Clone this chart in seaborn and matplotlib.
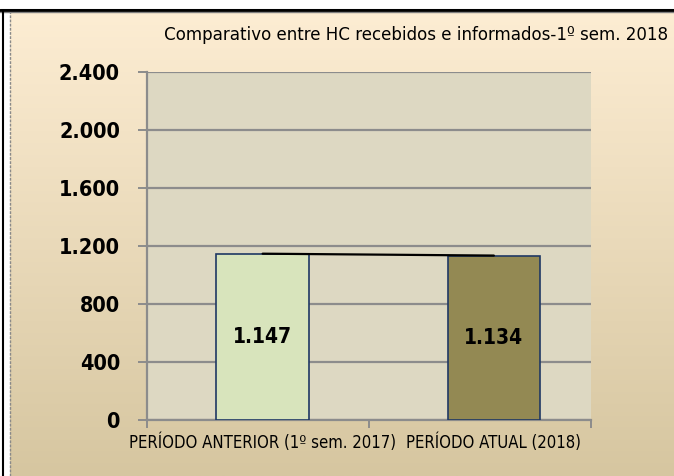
import numpy as np
import pandas as pd
import matplotlib
matplotlib.use('Agg')
import matplotlib.pyplot as plt
import seaborn as sns
from matplotlib.patches import Rectangle
from matplotlib.lines import Line2D

# chart data
categories = ['PERÍODO ANTERIOR (1º sem. 2017)', 'PERÍODO ATUAL (2018)']
values = [1147, 1134]
bar_colors = ['#d8e4bc', '#938953']
y_ticks = [0, 400, 800, 1200, 1600, 2000, 2400]
title = 'Comparativo entre HC recebidos e informados-1º sem. 2018'


def fmt_br(v):
    return f'{int(v):,}'.replace(',', '.')


sns.set_theme(style='white')
plt.rcParams['font.family'] = ['DejaVu Sans']
plt.rcParams['font.stretch'] = 'condensed'

df = pd.DataFrame({'periodo': categories, 'hc': values})

fig = plt.figure(figsize=(6.74, 4.76), dpi=100)
W, H = 674, 476

# gradient background of the chart area
bg = fig.add_axes([10 / W, 0, 1 - 10 / W, 1 - 12 / H], zorder=-2)
grad = np.linspace(0, 1, 256).reshape(-1, 1)
top = np.array(matplotlib.colors.to_rgb('#fdedd3'))
bot = np.array(matplotlib.colors.to_rgb('#d6c6a0'))
img = top + (bot - top) * grad[..., None]
bg.imshow(img, aspect='auto', extent=[0, 1, 0, 1])
bg.set_axis_off()

# frame lines of the original screenshot
fig.add_artist(Rectangle((0, 1 - 10 / H), 1, 10 / H, transform=fig.transFigure,
                         facecolor='white', edgecolor='none', zorder=5))
fig.add_artist(Line2D([0, 1], [1 - 10 / H, 1 - 10 / H], transform=fig.transFigure,
                      color='black', lw=2.2, zorder=6))
fig.add_artist(Line2D([0, 1], [1 - 12 / H, 1 - 12 / H], transform=fig.transFigure,
                      color='#7f7f7f', lw=1, zorder=6))
fig.add_artist(Rectangle((0, 0), 9 / W, 1 - 10 / H, transform=fig.transFigure,
                         facecolor='white', edgecolor='none', zorder=5))
fig.add_artist(Line2D([3 / W, 3 / W], [0, 1 - 10 / H], transform=fig.transFigure,
                      color='black', lw=1.5, zorder=6))
fig.add_artist(Line2D([9.5 / W, 9.5 / W], [0, 1 - 12 / H], transform=fig.transFigure,
                      color='#8a8a8a', lw=1, ls=(0, (2, 1)), zorder=6))

ax = fig.add_axes([147 / W, 1 - 420 / H, (591 - 147) / W, (420 - 72) / H])
ax.set_facecolor('#ddd8c2')

sns.barplot(data=df, x='periodo', y='hc', hue='periodo', palette=bar_colors,
            width=0.4, edgecolor='#1f3864', linewidth=1.2, legend=False,
            saturation=1, ax=ax, zorder=3)
ax.plot(range(len(values)), values, color='black', lw=1.6, zorder=4)

for cont in ax.containers:
    ax.bar_label(cont, labels=[fmt_br(v) for v in cont.datavalues],
                 label_type='center', fontsize=15, fontweight='bold',
                 color='black', padding=0)

ax.set_ylim(0, 2400)
ax.set_xlim(-0.5, 1.42)
ax.set_yticks(y_ticks)
ax.set_yticklabels([fmt_br(t) for t in y_ticks], fontsize=15.5, fontweight='bold')
ax.yaxis.grid(True, color='#8c8c8c', lw=1.6, zorder=1)
ax.set_axisbelow(True)
ax.tick_params(axis='y', left=True, length=6.5, width=1.4, color='#8c8c8c',
               pad=13, labelcolor='black')
ax.set_xticks(range(len(categories)))
ax.set_xticklabels(categories, fontsize=12, color='black')
ax.tick_params(axis='x', bottom=False, pad=4)
ax.set_xticks([-0.5, 0.46, 1.42], minor=True)
ax.tick_params(axis='x', which='minor', bottom=True, length=6, width=1.4,
               color='#8c8c8c')
ax.set_xlabel('')
ax.set_ylabel('')
for s in ['top', 'right']:
    ax.spines[s].set_visible(False)
for s in ['left', 'bottom']:
    ax.spines[s].set_color('#8c8c8c')
    ax.spines[s].set_linewidth(1.6)

fig.text(416 / W, 1 - 35 / H, title, ha='center', va='center', fontsize=13.3,
         color='black')

fig.savefig('out.png', dpi=100)
